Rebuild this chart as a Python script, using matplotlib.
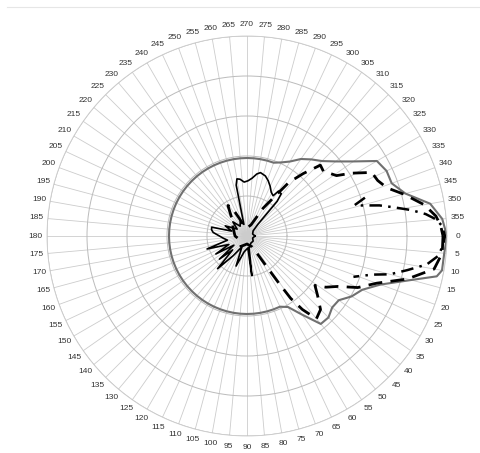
import numpy as np
import matplotlib
matplotlib.use("Agg")
import matplotlib.pyplot as plt
from matplotlib.lines import Line2D

# angles in degrees: 0 = east, growing clockwise (90 at the bottom)
theta_ticks = list(range(0, 360, 5))
ring_levels = [10, 20, 30, 40, 50]

# measured pattern (grey solid, flat floor on the back side)
solid_deg = [0, 5, 10, 12, 15, 20, 25, 30, 35, 40, 45, 50, 55, 60,
             65, 70, 75, 80, 85, 90, 95, 100, 105, 110, 115, 120,
             125, 130, 135, 140, 145, 150, 155, 160, 165, 170, 175,
             180, 185, 190, 195, 200, 205, 210, 215, 220, 225, 230,
             235, 240, 245, 250, 255, 260, 265, 270, 275, 280, 285, 290,
             295, 300, 305, 310, 315, 320, 325, 330, 335, 340, 345, 350,
             355, 360]
solid_r = [50, 49.5, 49.5, 48.5, 42.5, 35.5, 31.8, 30.2, 28, 27.8, 28.8,
           28.7, 24, 20.5,
           19.5, 19.5, 19.5, 19.5, 19.5, 19.5, 19.5, 19.5, 19.5, 19.5, 19.5,
           19.5, 19.5, 19.5, 19.5, 19.5, 19.5, 19.5, 19.5, 19.5, 19.5, 19.5,
           19.5, 19.5, 19.5, 19.5, 19.5, 19.5, 19.5, 19.5, 19.5, 19.5, 19.5,
           19.5, 19.5, 19.5, 19.5, 19.5, 19.5, 19.5, 19.5, 19.5, 19.5, 19.5,
           19.5, 19.5,
           20.3, 21.5, 23.5, 25, 26.5, 29, 32.5, 37.5, 38.5, 38.5, 41, 46.5,
           49, 50]

# simulated pattern (black dashed)
dashed_deg = [0, 5, 10, 15, 20, 25, 29, 33, 36, 40, 45, 50, 53, 55, 56, 57,
              59, 65, 90, 120, 150, 180, 210, 230, 238, 242, 246, 250, 270,
              290, 300, 305, 308, 312, 316, 320, 323, 326, 329, 333, 337,
              341, 345, 350, 354, 357, 360]
dashed_r = [49, 49, 47.5, 41.5, 34.5, 30.5, 26, 23.5, 21, 23, 26, 27, 23,
            19, 14, 10, 6, 3, 2, 3, 2, 3, 4, 6, 9, 8, 5, 3.5, 2, 3, 8, 12,
            17, 21, 25.5, 25, 26, 27, 30.5, 35, 35.5, 37, 40.5, 45, 47.5,
            48.5, 49]

# second simulation (black dash-dot), main lobe only
dashdot_deg = [342, 344, 345, 347, 349, 351, 353, 355, 357, 360,
               363, 366, 369, 372, 375, 377, 379, 381]
dashdot_r = [31, 28, 29.5, 34, 37.5, 41.5, 45, 47.5, 48.8, 49.5,
             49, 48, 45.5, 41, 37, 33, 30.5, 28.5]

# noisy back-lobe measurement (thin black)
noise_deg = [0, 20, 40, 60, 80, 83, 86, 100, 110, 115, 125, 132, 136, 140,
             145, 150, 155, 162, 168, 175, 186, 190, 194, 198, 205, 215,
             225, 235, 245, 255, 258, 260, 263, 267, 271, 275, 279, 282,
             287, 291, 295, 299, 303, 305, 309, 311, 313, 320, 340, 360]
noise_r = [2, 1.5, 2, 2, 3, 10, 3, 4, 8, 3, 6, 11, 5, 9, 4, 9, 5, 10.5, 5,
           6, 8.5, 9, 9.1, 4, 6, 3, 5, 3, 4, 3, 13, 14.5, 14.3, 13.5, 13.8,
           14.5, 15.7, 16.2, 15.7, 14.8, 13.7, 12.5, 12, 13.7, 13.6, 11.5,
           4, 2, 1.5, 2]

plt.rcParams["font.family"] = ["Liberation Sans Narrow", "Liberation Sans",
                               "DejaVu Sans"]

fig = plt.figure(figsize=(4.81, 4.53), dpi=100)
ax = fig.add_axes([47 / 481, 17 / 453, 400 / 481, 400 / 453],
                  projection="polar")
ax.set_theta_zero_location("E")
ax.set_theta_direction(-1)
ax.set_ylim(0, 50)

ax.plot(np.radians(solid_deg), solid_r, color="#707070", lw=1.5)
ax.plot(np.radians(dashed_deg), dashed_r, color="black", lw=2.0,
        dashes=(5, 3))
ax.plot(np.radians(dashdot_deg), dashdot_r, color="black", lw=1.8,
        dashes=(5, 2.5, 1, 2.5))
ax.plot(np.radians(noise_deg), noise_r, color="black", lw=1.2)

ax.set_thetagrids(theta_ticks, labels=[str(t) for t in theta_ticks])
ax.set_rgrids(ring_levels, labels=[])
ax.tick_params(axis="x", labelsize=6, colors="#333333", pad=-2.5)
ax.xaxis.grid(True, color="#cccccc", lw=0.6)
ax.yaxis.grid(True, color="#bbbbbb", lw=0.7)
ax.spines["polar"].set_color("#cccccc")
ax.spines["polar"].set_linewidth(0.6)

# faint frame line across the top of the picture
fig.add_artist(Line2D([0.015, 1.0], [0.985, 0.985], color="#e6e6e6", lw=0.8))

fig.savefig("out.png", dpi=100)
